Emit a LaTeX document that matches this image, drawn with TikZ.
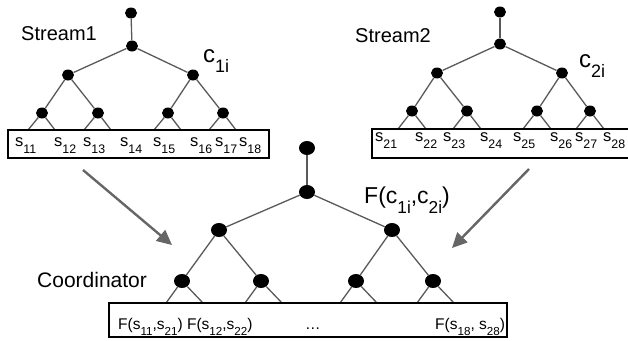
\documentclass[tikz,border=0pt]{standalone}
\usepackage{fontspec}
\setmainfont{Liberation Sans}
\usetikzlibrary{shapes.geometric,arrows.meta}
\newcommand{\lo}[1]{\raisebox{-0.45em}{\scalebox{0.75}{#1}}}

\begin{document}
\begin{tikzpicture}[x=1pt,y=-1pt,
  dot/.style={ellipse,fill=black,inner sep=0pt,minimum width=12pt,minimum height=11pt},
  bigdot/.style={dot,minimum width=16pt,minimum height=14pt},
  edge/.style={draw=black!65,line width=1.3pt},
  sbox/.style={draw=black,line width=1.6pt,inner sep=0pt},
  flow/.style={draw=black!60,line width=2.4pt,-{Triangle[length=15pt,width=14pt]}},
  lbl/.style={anchor=base west,inner sep=0pt}]
 \useasboundingbox (0,0) rectangle (628,340);

 % stream 1
 \node[dot] (s1t) at (131,13) {};
 \node[dot] (s1) at (132,46) {};
 \node[dot] (s1a) at (68,75) {};
 \node[dot] (s1b) at (193,75) {};
 \node[dot] (s1aa) at (42,113) {};
 \node[dot] (s1ab) at (98,113) {};
 \node[dot] (s1ba) at (168,113) {};
 \node[dot] (s1bb) at (223,113) {};
 \foreach \p/\c in {s1t/s1, s1/s1a, s1/s1b, s1a/s1aa, s1a/s1ab, s1b/s1ba, s1b/s1bb}
   \draw[edge] (\p) -- (\c);
 \foreach \p in {s1aa, s1ab, s1ba, s1bb} {
   \path (\p) ++(-14,17) coordinate (\p-l) (\p) ++(13,17) coordinate (\p-r);
   \draw[edge] (\p-l) -- (\p) -- (\p-r);
 }
 \node[sbox, minimum width=261pt, minimum height=28pt] (box1) at (138.5,144) {};
 \foreach \i/\x in {1/15, 2/54, 3/83, 4/120, 5/153, 6/190, 7/215, 8/239}
   \node[lbl, font=\fontsize{16.5}{19}\selectfont] (l1\i) at (\x,146) {s\lo{1\i}};
 \node[lbl, font=\fontsize{20}{24}\selectfont] (st1) at (21,40) {Stream1};
 \node[lbl, font=\fontsize{24}{28}\selectfont] (c1) at (203,62) {c\lo{1i}};

 % stream 2
 \node[dot] (s2t) at (500,12) {};
 \node[dot] (s2) at (500,44) {};
 \node[dot] (s2a) at (437,73) {};
 \node[dot] (s2b) at (562,73) {};
 \node[dot] (s2aa) at (412,111) {};
 \node[dot] (s2ab) at (467,111) {};
 \node[dot] (s2ba) at (537,111) {};
 \node[dot] (s2bb) at (590,111) {};
 \foreach \p/\c in {s2t/s2, s2/s2a, s2/s2b, s2a/s2aa, s2a/s2ab, s2b/s2ba, s2b/s2bb}
   \draw[edge] (\p) -- (\c);
 \foreach \p in {s2aa, s2ab, s2ba, s2bb} {
   \path (\p) ++(-14,18) coordinate (\p-l) (\p) ++(14,18) coordinate (\p-r);
   \draw[edge] (\p-l) -- (\p) -- (\p-r);
 }
 \node[sbox, minimum width=258pt, minimum height=29pt] (box2) at (501,143.5) {};
 \foreach \i/\x in {1/375, 2/415, 3/443, 4/480, 5/513, 6/550, 7/575, 8/603}
   \node[lbl, font=\fontsize{16.5}{19}\selectfont] (l2\i) at (\x,141) {s\lo{2\i}};
 \node[lbl, font=\fontsize{20}{24}\selectfont] (st2) at (355,42) {Stream2};
 \node[lbl, font=\fontsize{24}{28}\selectfont] (c2) at (579,67) {c\lo{2i}};

 % coordinator
 \node[bigdot] (ct) at (307,148) {};
 \node[bigdot] (c) at (307,192) {};
 \node[bigdot] (ca) at (219,230) {};
 \node[bigdot] (cb) at (392,230) {};
 \node[bigdot] (caa) at (182,281) {};
 \node[bigdot] (cab) at (261,281) {};
 \node[bigdot] (cba) at (356,281) {};
 \node[bigdot] (cbb) at (433,281) {};
 \foreach \p/\c in {ct/c, c/ca, c/cb, ca/caa, ca/cab, cb/cba, cb/cbb}
   \draw[edge] (\p) -- (\c);
 \foreach \p in {caa, cab, cba, cbb} {
   \path (\p) ++(-16,22) coordinate (\p-l) (\p) ++(21,22) coordinate (\p-r);
   \draw[edge] (\p-l) -- (\p) -- (\p-r);
 }
 \node[sbox, minimum width=398pt, minimum height=34pt] (cbox) at (308,320) {};
 \begin{scope}[font=\fontsize{15.5}{18}\selectfont]
 \node[lbl] (f1) at (118,329) {F(s\lo{11},s\lo{21}) F(s\lo{12},s\lo{22})};
 \node[lbl] (fdots) at (305,329) {…};
 \node[lbl] (f8) at (435,329) {F(s\lo{18}, s\lo{28})};
 \end{scope}
 \node[lbl, font=\fontsize{23}{27}\selectfont] (fc) at (364,203) {F(c\lo{1i},c\lo{2i})};
 \node[lbl, font=\fontsize{21}{25}\selectfont] (crd) at (37,287) {Coordinator};

 % streams into coordinator
 \coordinate (a1s) at (83,170);
 \coordinate (a1e) at (172,245);
 \coordinate (a2s) at (529,169);
 \coordinate (a2e) at (452,248);
 \draw[flow] (a1s) -- (a1e);
 \draw[flow] (a2s) -- (a2e);
\end{tikzpicture}
\end{document}
